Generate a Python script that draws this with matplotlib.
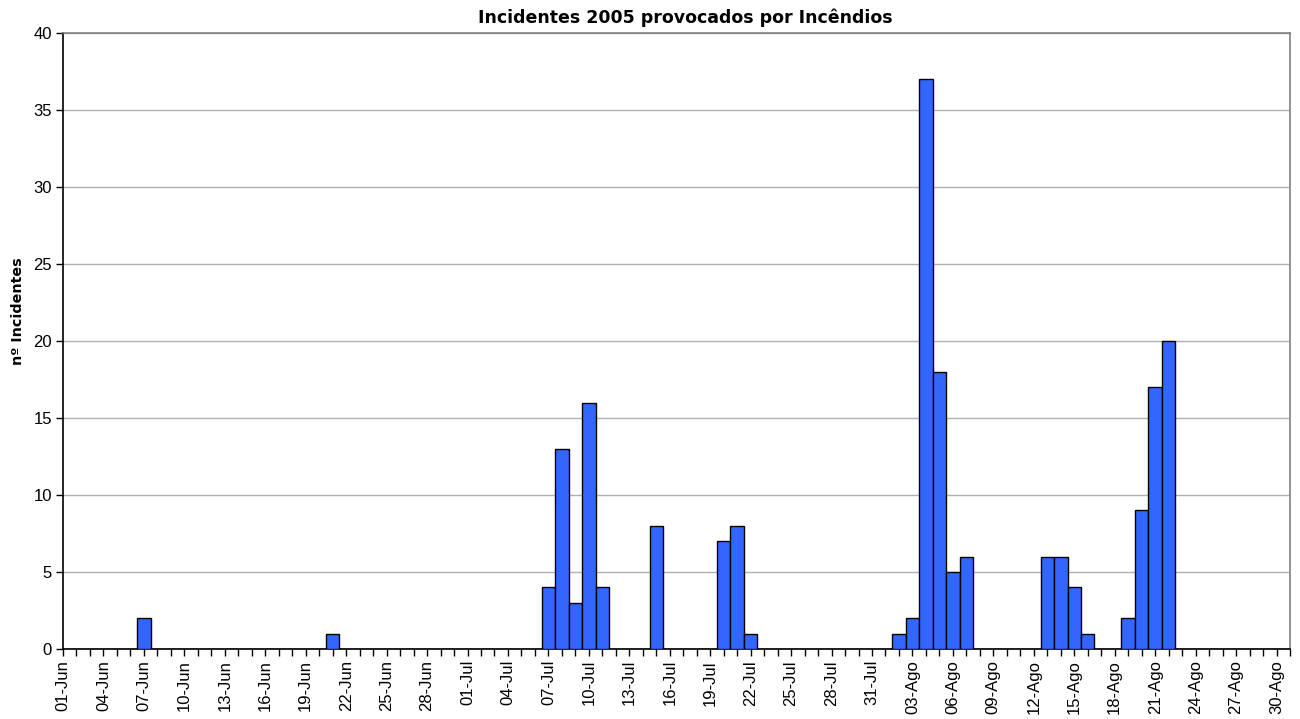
import datetime as dt
import numpy as np
import matplotlib.pyplot as plt

# daily counts, 01-Jun .. 31-Ago 2005 (only non-zero days listed)
start = dt.date(2005, 6, 1)
n_days = 92
event_days = ["2005-06-07", "2005-06-21",
              "2005-07-07", "2005-07-08", "2005-07-09", "2005-07-10", "2005-07-11",
              "2005-07-15", "2005-07-20", "2005-07-21", "2005-07-22",
              "2005-08-02", "2005-08-03", "2005-08-04", "2005-08-05", "2005-08-06", "2005-08-07",
              "2005-08-13", "2005-08-14", "2005-08-15", "2005-08-16",
              "2005-08-19", "2005-08-20", "2005-08-21", "2005-08-22"]
event_counts = [2, 1,
                4, 13, 3, 16, 4,
                8, 7, 8, 1,
                1, 2, 37, 18, 5, 6,
                6, 6, 4, 1,
                2, 9, 17, 20]

months_pt = {6: "Jun", 7: "Jul", 8: "Ago"}

days = [start + dt.timedelta(days=i) for i in range(n_days)]
counts = np.zeros(n_days)
for d, c in zip(event_days, event_counts):
    idx = (dt.date.fromisoformat(d) - start).days
    counts[idx] = c

x = np.arange(n_days)
labels = [f"{d.day:02d}-{months_pt[d.month]}" for d in days]

fig = plt.figure(figsize=(13, 7.19), dpi=100)
ax = fig.add_axes([63 / 1300, 70 / 719, (1290 - 63) / 1300, (649 - 33) / 719])

ax.bar(x, counts, width=1.0, color="#3366ff", edgecolor="black", linewidth=1.0, zorder=3)

ax.set_xlim(0, n_days - 1)
ax.set_ylim(0, 40)
ax.set_yticks(np.arange(0, 41, 5))
ax.yaxis.grid(True, color="#b0b0b0", linewidth=1.0, zorder=0)

ax.set_xticks(x)
ax.set_xticklabels([lab if i % 3 == 0 else "" for i, lab in enumerate(labels)],
                   rotation=90, family="Liberation Sans", fontsize=12)
for lab in ax.get_yticklabels():
    lab.set_family("Liberation Sans")
    lab.set_fontsize(12)
ax.tick_params(axis="both", direction="out", length=5, width=1, color="black", pad=3)

for side in ["top", "right"]:
    ax.spines[side].set_color("#808080")
    ax.spines[side].set_linewidth(1.2)
for side in ["left", "bottom"]:
    ax.spines[side].set_color("black")
    ax.spines[side].set_linewidth(1.2)

ax.set_title("Incidentes 2005 provocados por Incêndios", fontsize=12.5,
             fontweight="bold", x=0.507, pad=7)
ax.set_ylabel("nº Incidentes", fontsize=10.3, fontweight="bold")
ax.yaxis.set_label_coords(-0.031, 0.549)

fig.savefig("out.png", dpi=100)
